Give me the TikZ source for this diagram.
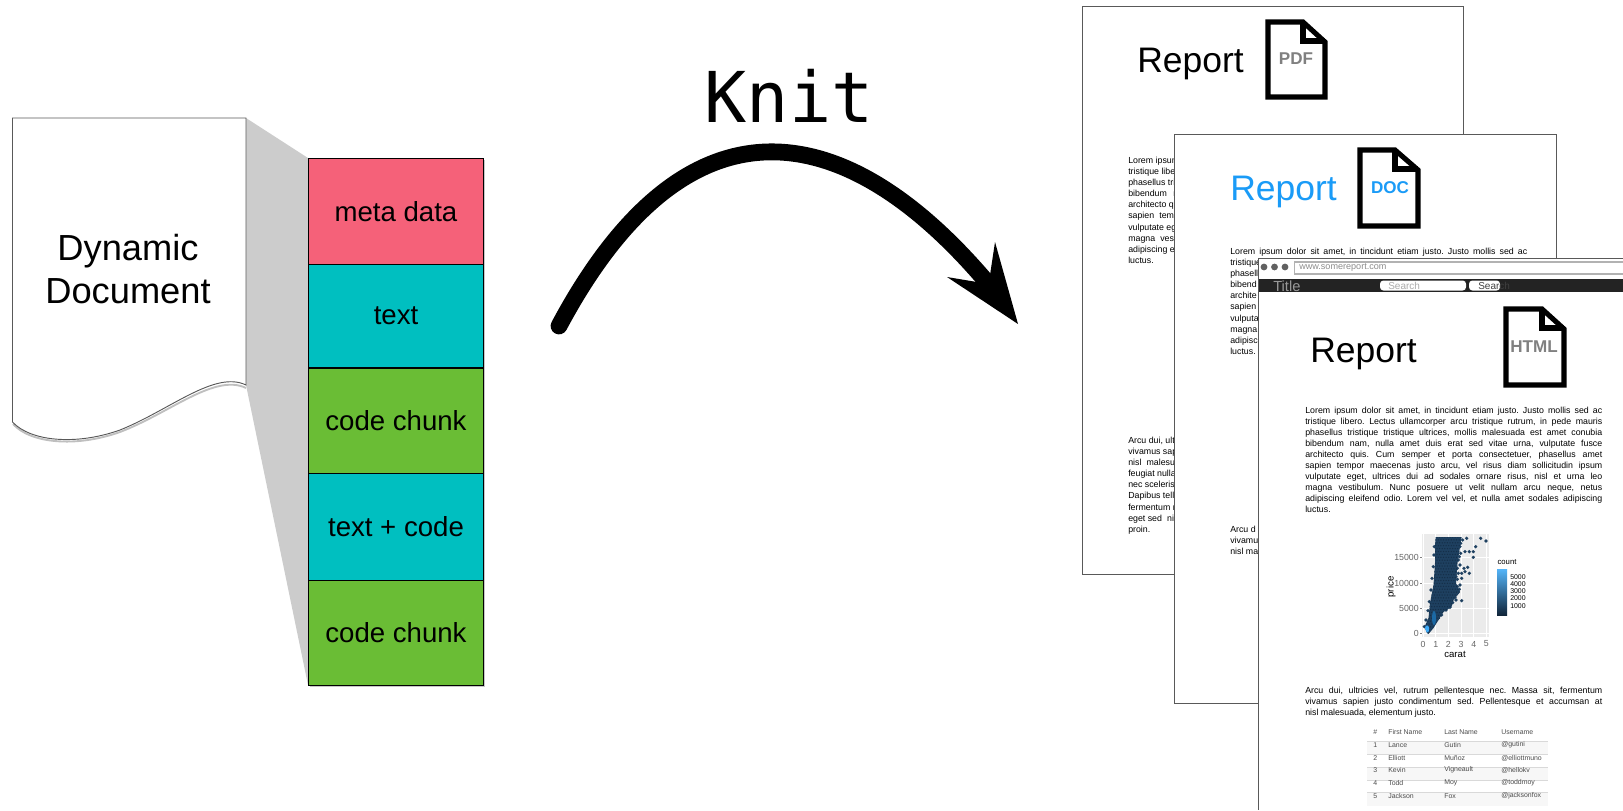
\documentclass[tikz,border=0pt]{standalone}
\usepackage{fontspec}
\setmainfont{Liberation Sans}
\newfontfamily\knitfont{DejaVu Sans Mono}
\usetikzlibrary{calc}
\definecolor{metac}{HTML}{F56179}
\definecolor{textc}{HTML}{00BFC0}
\definecolor{codec}{HTML}{6ABD35}
\definecolor{wedge}{HTML}{CCCCCC}
\definecolor{docblue}{HTML}{1A9BF7}
\definecolor{hexc}{HTML}{1E4060}
\definecolor{hexd}{HTML}{152F49}
\definecolor{barc}{HTML}{232323}
\newcommand\jl[1]{\makebox[222.75pt][s]{#1}}
\frenchspacing
\tikzset{
  x=0.75pt,y=-0.75pt,
  part/.style={draw=black,line width=0.4pt,minimum width=131.6pt,minimum height=0pt,inner sep=0pt,font=\fontsize{20.7}{24}\selectfont},
  pagebox/.style={draw=black!65,line width=0.6pt,fill=white},
  rep/.style={anchor=base west,inner sep=0pt,font=\fontsize{26.6}{30}\selectfont},
  icon/.style={draw=black,line width=3.8pt,fill=white,miter limit=6},
  iconlab/.style={inner sep=0pt,font=\fontsize{12.8}{14}\selectfont\bfseries},
  para/.style={anchor=north west,inner sep=0pt,align=left,font=\fontsize{6.6}{8.3}\selectfont},
  frag/.style={anchor=north west,inner sep=0pt,align=left,font=\fontsize{6.6}{8.3}\selectfont},
  axl/.style={inner sep=0pt,text=black!60,font=\fontsize{6.6}{8}\selectfont},
  axt/.style={inner sep=0pt,font=\fontsize{7.2}{8}\selectfont},
  lgl/.style={inner sep=0pt,anchor=west,font=\fontsize{5.2}{6}\selectfont},
  cell/.style={inner sep=0pt,anchor=west,text=black!70,font=\fontsize{5.2}{6}\selectfont},
  rowline/.style={draw=black!15,line width=0.5pt},
  stripe/.style={fill=black!3,draw=none},
  bartext/.style={inner sep=0pt,anchor=west,font=\fontsize{7.5}{9}\selectfont},
  dotc/.style={fill=black!62,draw=none},
}
\begin{document}
\begin{tikzpicture}
\useasboundingbox (0,0) rectangle (1623,810);
% wedge
\fill[wedge] (246,118) -- (308,158) -- (308,685) -- (246,385) -- cycle;
% dynamic document
\draw[black!25,line width=1.4pt] (13,424) .. controls (30,443) and (75,448) .. (120,432) .. controls (170,413) and (215,373) .. (246,388);
\draw[draw=black!65,line width=0.7pt,fill=white] (12.5,118) -- (246,118) -- (246,385) .. controls (215,370) and (170,410) .. (120,430) .. controls (75,446) and (30,441) .. (12.5,422) -- cycle;
\node[align=center,inner sep=0pt,font=\fontsize{27.2}{32.5}\selectfont] (dyn) at (128,269) {Dynamic\\Document};
% stack
\fill[black!22] (309.5,160) rectangle (484.5,687);
\node[part,fill=metac,anchor=north west,minimum height=79.5pt] (p1) at (308,158) {meta data};
\node[part,fill=textc,anchor=north west,minimum height=77.6pt] (p2) at (308,264) {text};
\node[part,fill=codec,anchor=north west,minimum height=79.1pt] (p3) at (308,367.5) {code chunk};
\node[part,fill=textc,anchor=north west,minimum height=80.2pt] (p4) at (308,473) {text + code};
\node[part,fill=codec,anchor=north west,minimum height=78.7pt] (p5) at (308,580) {code chunk};
% knit
\node[inner sep=0pt,font=\fontsize{52.6}{60}\knitfont] (knit) at (789,96) {Knit};
\coordinate (as) at (559,326);
\coordinate (ae) at (985,280);
\draw[line width=12.6pt,line cap=round] (as) .. controls (689.6,81.5) and (849.5,121.5) .. (ae);
\coordinate (tip) at (1018,324);
\fill (tip) -- (995,242) -- (990,275) -- (983,276) -- (977,282) -- (947,277) -- cycle;
% page 1
\draw[pagebox] (1082,6) rectangle (1463,574);
\node[rep] (r1) at (1137,72) {Report};
\draw[icon] (1268,22) -- (1303,22) -- (1325,42) -- (1325,97) -- (1268,97) -- cycle;
\draw[icon,fill=none,miter limit=2] (1303,22) -- (1303,41) -- (1325,41);
\node[iconlab,text=black!50] (ipdf) at (1296,59) {PDF};
\node[frag] (t1a) at (1128,157) {Lorem ipsum\\tristique libero\\phasellus tristi\\bibendum\hspace{3pt} nam\\architecto quis\\sapien\hspace{2pt} tempor\\vulputate eget\\magna\hspace{2pt} vestib\\adipiscing elei\\luctus.};
\node[frag] (t1b) at (1128,437) {Arcu dui, ultric\\vivamus sapie\\nisl\hspace{2pt} malesua\\feugiat nulla f\\nec scelerisque\\Dapibus tellus\\fermentum nu\\eget sed\hspace{2pt} nisl\\proin.};
% page 2
\draw[pagebox] (1174,134.5) rectangle (1556,703);
\node[rep,text=docblue] (r2) at (1230,200) {Report};
\draw[icon] (1360,150) -- (1395,150) -- (1418,170) -- (1418,226) -- (1360,226) -- cycle;
\draw[icon,fill=none,miter limit=2] (1395,150) -- (1395,169) -- (1418,169);
\node[iconlab,text=docblue] (idoc) at (1390,188) {DOC};
\node[para] (t2a) at (1230,248) {\jl{Lorem ipsum dolor sit amet, in tincidunt etiam justo. Justo mollis sed ac}\\tristique\\phasell\\bibend\\archite\\sapien\\vulputa\\magna\\adipisc\\luctus.};
\node[frag] (t2b) at (1230,526) {Arcu d\\vivamu\\nisl ma};
% page 3
\fill[white] (1258.5,258) rectangle (1623,810);
\draw[black!65,line width=0.6pt] (1623,258) -- (1258.5,258) -- (1258.5,810);
\fill[dotc] (1264,267) circle[radius=3.4];
\fill[dotc] (1274.5,267) circle[radius=3.4];
\fill[dotc] (1285,267) circle[radius=3.4];
\draw[black!30,line width=0.8pt] (1623,262) -- (1294.5,262) -- (1294.5,274) -- (1623,274);
\node[bartext,text=black!45,font=\fontsize{6.8}{8}\selectfont] (url) at (1299,268) {www.somereport.com};
\fill[barc] (1258.5,279) rectangle (1623,292);
\node[bartext,text=black!40,font=\fontsize{11}{12}\selectfont] (ttl) at (1273,286) {Title};
\draw[fill=white,draw=none,rounded corners=2.5] (1380,280.5) rectangle (1466,290.5);
\node[bartext,text=black!33] (srch) at (1388,285.5) {Search};
\draw[fill=white,draw=none,rounded corners=2.5] (1469,280.5) rectangle (1500,290.5);
\node[bartext,text=black!75] (btn) at (1478,285.5) {Search};
\node[rep] (r3) at (1310,362) {Report};
\draw[icon] (1506,309) -- (1542,309) -- (1564,329) -- (1564,385) -- (1506,385) -- cycle;
\draw[icon,fill=none,miter limit=2] (1542,309) -- (1542,328) -- (1564,328);
\node[iconlab,text=black!50] (ihtml) at (1534,347) {HTML};
\node[para] (t3a) at (1305,406.5) {\jl{Lorem ipsum dolor sit amet, in tincidunt etiam justo. Justo mollis sed ac}\\
\jl{tristique libero. Lectus ullamcorper arcu tristique rutrum, in pede mauris}\\
\jl{phasellus tristique tristique ultrices, mollis malesuada est amet conubia}\\
\jl{bibendum nam, nulla amet duis erat sed vitae urna, vulputate fusce}\\
\jl{architecto quis. Cum semper et porta consectetuer, phasellus amet}\\
\jl{sapien tempor maecenas justo arcu, vel risus diam sollicitudin ipsum}\\
\jl{vulputate eget, ultrices dui ad sodales ornare risus, nisl et urna leo}\\
\jl{magna vestibulum. Nunc posuere ut velit nullam arcu neque, netus}\\
\jl{adipiscing eleifend odio. Lorem vel vel, et nulla amet sodales adipiscing}\\
luctus.};
\node[para] (t3b) at (1305,686.5) {\jl{Arcu dui, ultricies vel, rutrum pellentesque nec. Massa sit, fermentum}\\
\jl{vivamus sapien justo condimentum sed. Pellentesque et accumsan at}\\
nisl malesuada, elementum justo.};
% chart
\fill[black!8] (1422,534) rectangle (1489,637);
\foreach \gx in {1423,1435.7,1448.3,1461,1473.7,1486.4}{\draw[white,line width=0.5pt] (\gx,534) -- (\gx,637);}
\foreach \gy in {633.7,608.4,583,557.7}{\draw[white,line width=0.5pt] (1422,\gy) -- (1489,\gy);}
\foreach \sx/\sy in {278/60,272/70,270/80,268/110,265/120,262/145,258/170,262/200,268/208,262/220,255/232,248/248,240/262,228/270,215/285,205/295,193/80,192/105,190/140,186/175,183/210,178/245,174/272,168/300,163/320,290/55,332/55,348/63,317/80,310/95,285/95,298/95,272/100,310/112,270/135,282/145,293/142,285/155,298/160,265/160,275/160,262/178,275/175,270/195,250/228,275/242,258/240,240/228}{
  \fill[hexc] ({1370+\sx/3},{520+\sy/3}) circle[radius=1.8];
}
\begin{scope}
\clip (1427,633) -- (1424.5,627) -- (1428.5,618) -- (1430,603) -- (1433.5,585) -- (1435,563) -- (1435,545) -- (1435.7,537) -- (1461.7,537) -- (1459.5,550) -- (1457.5,563) -- (1456,583) -- (1460,592) -- (1453.5,600) -- (1451.5,607) -- (1443.5,612) -- (1438.5,620) -- (1433.5,628) -- (1428.5,634) -- cycle;
\fill[hexc] (1420,534) rectangle (1465,637);
\foreach \hy in {0,...,33}{
  \pgfmathsetmacro{\hoff}{mod(\hy,2)*1.3}
  \foreach \hx in {0,...,17}{
    \fill[hexd] ({1424+\hx*2.6+\hoff},{537+\hy*2.9}) circle[radius=0.75];
  }
}
\fill[docblue!45!hexc] (1434,618) ellipse[x radius=2,y radius=7];
\fill[docblue!85!white] (1427,629) ellipse[x radius=2.2,y radius=3.6];
\end{scope}
\node[axl,anchor=east] (y0) at (1419,633.7) {0};
\node[axl,anchor=east] (y1) at (1419,608.4) {5000};
\node[axl,anchor=east] (y2) at (1419,583) {10000};
\node[axl,anchor=east] (y3) at (1419,557.7) {15000};
\foreach \gy in {633.7,608.4,583,557.7}{\draw[black!50,line width=0.4pt] (1420,\gy) -- (1422,\gy);}
\node[axl] (x0) at (1423,644) {0};
\node[axl] (x1) at (1435.7,644) {1};
\node[axl] (x2) at (1448.3,644) {2};
\node[axl] (x3) at (1461,644) {3};
\node[axl] (x4) at (1473.7,644) {4};
\node[axl] (x5) at (1486.4,644) {5};
\node[axt] (xl) at (1455,654) {carat};
\node[axt,rotate=90] (yl) at (1391,587) {price};
\node[inner sep=0pt,font=\fontsize{5.8}{7}\selectfont] (cnt) at (1507,562) {count};
\shade[top color=docblue!75!white,bottom color=hexd!80!black] (1497,569) rectangle (1507,615);
\node[lgl] (l5) at (1510,577) {5000};
\node[lgl] (l4) at (1510,584.3) {4000};
\node[lgl] (l3) at (1510,591.5) {3000};
\node[lgl] (l2) at (1510,598.5) {2000};
\node[lgl] (l1) at (1510,606) {1000};
% table
\fill[stripe] (1367,741) rectangle (1548,754);
\fill[stripe] (1367,767) rectangle (1548,780);
\fill[stripe] (1367,792) rectangle (1548,806);
\foreach \ly in {741,754,767,780,792}{\draw[rowline] (1367,\ly) -- (1548,\ly);}
\node[cell] (h0) at (1373,732) {\#};
\node[cell] (h1) at (1388,732) {First Name};
\node[cell] (h2) at (1444,732) {Last Name};
\node[cell] (h3) at (1501,732) {Username};
\node[cell] (a0) at (1373,745) {1};
\node[cell] (a1) at (1388,745) {Lance};
\node[cell] (a2) at (1444,745) {Gutin};
\node[cell] (a3) at (1501,745) {@gutini};
\node[cell] (b0) at (1373,758) {2};
\node[cell] (b1) at (1388,758) {Elliott};
\node[cell] (b2) at (1444,758) {Muñoz};
\node[cell] (b3) at (1501,758) {@elliottmuno};
\node[cell] (c0) at (1373,770) {3};
\node[cell] (c1) at (1388,770) {Kevin};
\node[cell] (c2) at (1444,770) {Vigneault};
\node[cell] (c3) at (1501,770) {@hellokv};
\node[cell] (d0) at (1373,783) {4};
\node[cell] (d1) at (1388,783) {Todd};
\node[cell] (d2) at (1444,783) {Moy};
\node[cell] (d3) at (1501,783) {@toddmoy};
\node[cell] (e0) at (1373,796) {5};
\node[cell] (e1) at (1388,796) {Jackson};
\node[cell] (e2) at (1444,796) {Fox};
\node[cell] (e3) at (1501,796) {@jacksonfox};
\end{tikzpicture}
\end{document}
